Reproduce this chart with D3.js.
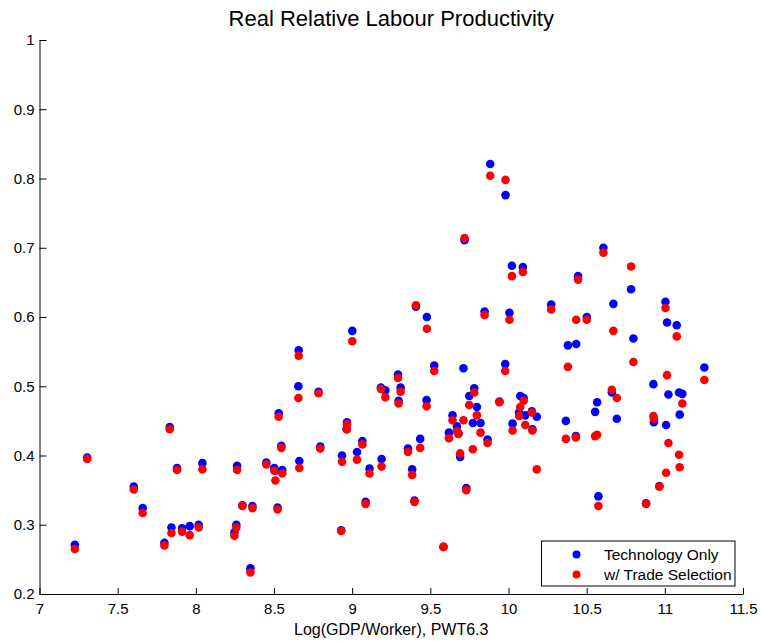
<!DOCTYPE html>
<html>
<head>
<meta charset="utf-8">
<script src="https://cdn.jsdelivr.net/npm/d3@7"></script>
<style>
  html, body { margin: 0; padding: 0; background: #fff; }
  svg { display: block; font-family: "Liberation Sans", Arial, Helvetica, sans-serif; }
</style>
</head>
<body>
<svg id="chart" width="761" height="641"></svg>
<script>
// Log GDP per worker (PWT 6.3), one entry per country
const logGdpPerWorker = [
  7.226, 7.305, 7.603, 7.660, 7.833, 7.880, 7.799, 7.844, 7.912, 7.961,
  8.018, 8.042, 8.264, 8.259, 8.247, 8.298, 8.362, 8.349, 8.451, 8.502,
  8.509, 8.530, 8.547, 8.523, 8.553, 8.658, 8.656, 8.662, 8.785, 8.796,
  9.001, 8.967, 8.965, 8.935, 9.065, 9.031, 9.111, 9.086, 8.930, 9.188,
  9.184, 9.212, 9.293, 9.310, 9.297, 9.357, 9.384, 9.399, 9.435, 9.476,
  9.525, 9.584, 9.730, 9.642, 9.619, 9.670, 9.680, 9.691, 9.781, 9.749,
  9.798, 9.712, 9.772, 9.821, 9.866, 9.942, 9.478, 9.408, 9.847, 10.006,
  9.883, 9.981, 9.719, 10.022, 10.092, 10.445, 10.273, 10.501, 10.433, 10.380,
  9.979, 10.075, 10.068, 10.097, 10.107, 10.149, 10.181, 10.026, 10.153, 10.367,
  10.431, 10.567, 10.554, 10.575, 10.607, 10.784, 10.671, 11.004, 11.014, 11.023,
  11.008, 11.076, 11.112, 11.091, 11.095, 10.799, 11.253, 10.927, 10.930, 10.661,
  10.693, 10.880, 10.965
];

// Real relative labour productivity, technology only
const technologyOnly = [
  0.271, 0.397, 0.355, 0.324, 0.441, 0.382, 0.274, 0.296, 0.295, 0.298,
  0.300, 0.389, 0.385, 0.300, 0.289, 0.328, 0.327, 0.237, 0.390, 0.382,
  0.378, 0.461, 0.414, 0.325, 0.379, 0.552, 0.500, 0.392, 0.492, 0.413,
  0.580, 0.448, 0.438, 0.400, 0.421, 0.405, 0.381, 0.333, 0.292, 0.395,
  0.498, 0.494, 0.517, 0.498, 0.479, 0.410, 0.380, 0.335, 0.424, 0.480,
  0.530, 0.268, 0.353, 0.458, 0.433, 0.442, 0.432, 0.398, 0.497, 0.486,
  0.470, 0.526, 0.447, 0.447, 0.423, 0.478, 0.600, 0.615, 0.608, 0.606,
  0.821, 0.776, 0.711, 0.674, 0.672, 0.659, 0.618, 0.600, 0.561, 0.559,
  0.532, 0.486, 0.462, 0.483, 0.458, 0.464, 0.456, 0.446, 0.438, 0.450,
  0.428, 0.477, 0.463, 0.341, 0.700, 0.640, 0.619, 0.622, 0.592, 0.488,
  0.444, 0.588, 0.489, 0.491, 0.459, 0.569, 0.527, 0.503, 0.448, 0.491,
  0.453, 0.331, 0.356
];

// Real relative labour productivity, with trade selection
const withTradeSelection = [
  0.265, 0.395, 0.351, 0.317, 0.438, 0.379, 0.270, 0.288, 0.290, 0.285,
  0.296, 0.380, 0.379, 0.296, 0.284, 0.327, 0.324, 0.231, 0.387, 0.378,
  0.364, 0.456, 0.411, 0.322, 0.374, 0.544, 0.483, 0.382, 0.490, 0.410,
  0.565, 0.445, 0.438, 0.391, 0.416, 0.394, 0.374, 0.330, 0.291, 0.384,
  0.496, 0.484, 0.512, 0.492, 0.475, 0.405, 0.372, 0.333, 0.411, 0.471,
  0.522, 0.268, 0.350, 0.451, 0.425, 0.435, 0.431, 0.403, 0.491, 0.473,
  0.458, 0.451, 0.409, 0.433, 0.418, 0.477, 0.583, 0.617, 0.603, 0.596,
  0.804, 0.798, 0.714, 0.659, 0.665, 0.654, 0.611, 0.596, 0.596, 0.528,
  0.522, 0.470, 0.457, 0.479, 0.444, 0.462, 0.380, 0.436, 0.436, 0.424,
  0.426, 0.430, 0.428, 0.327, 0.693, 0.673, 0.580, 0.613, 0.516, 0.418,
  0.375, 0.572, 0.475, 0.401, 0.383, 0.535, 0.509, 0.457, 0.453, 0.495,
  0.483, 0.330, 0.355
];

const xTicks = [7, 7.5, 8, 8.5, 9, 9.5, 10, 10.5, 11, 11.5];
const xTickLabels = ["7", "7.5", "8", "8.5", "9", "9.5", "10", "10.5", "11", "11.5"];
const yTicks = [0.2, 0.3, 0.4, 0.5, 0.6, 0.7, 0.8, 0.9, 1];
const yTickLabels = ["0.2", "0.3", "0.4", "0.5", "0.6", "0.7", "0.8", "0.9", "1"];

const seriesNames = ["Technology Only", "w/ Trade Selection"];
const seriesColors = ["#0000ff", "#ff0000"];

const svg = d3.select("#chart");

const x = d3.scaleLinear().domain([7, 11.5]).range([39.5, 743]);
const y = d3.scaleLinear().domain([0.2, 1]).range([594, 40]);

// Title
svg.append("text")
  .attr("x", (x.range()[0] + x.range()[1]) / 2)
  .attr("y", 26)
  .attr("text-anchor", "middle")
  .attr("font-size", 22)
  .attr("fill", "#000")
  .text("Real Relative Labour Productivity");

// Axes: MATLAB style, ticks pointing inward, no box
const xAxis = d3.axisBottom(x)
  .tickValues(xTicks)
  .tickFormat((d, i) => xTickLabels[i])
  .tickSizeInner(-6)
  .tickSizeOuter(0)
  .tickPadding(9);

const yAxis = d3.axisLeft(y)
  .tickValues(yTicks)
  .tickFormat((d, i) => yTickLabels[i])
  .tickSizeInner(-7)
  .tickSizeOuter(0)
  .tickPadding(5);

const gx = svg.append("g")
  .attr("transform", `translate(0,${y.range()[0]})`)
  .call(xAxis);
const gy = svg.append("g")
  .attr("transform", `translate(${x.range()[0]},0)`)
  .call(yAxis);

[gx, gy].forEach(g => {
  g.selectAll("path.domain").attr("stroke", "#000").attr("stroke-width", 1);
  g.selectAll(".tick line").attr("stroke", "#000").attr("stroke-width", 1);
  g.selectAll(".tick text")
    .attr("fill", "#000")
    .attr("font-size", 15)
    .attr("font-family", "Liberation Sans, Arial, Helvetica, sans-serif");
});

// X axis label
svg.append("text")
  .attr("x", (x.range()[0] + x.range()[1]) / 2)
  .attr("y", 635)
  .attr("text-anchor", "middle")
  .attr("font-size", 16)
  .attr("fill", "#000")
  .text("Log(GDP/Worker), PWT6.3");

// Scatter points: technology only first, trade selection drawn on top
const r = 4.3;
const plot = svg.append("g");

plot.append("g").selectAll("circle")
  .data(logGdpPerWorker.map((v, i) => [v, technologyOnly[i]]))
  .join("circle")
  .attr("cx", d => x(d[0]))
  .attr("cy", d => y(d[1]))
  .attr("r", r)
  .attr("fill", seriesColors[0]);

plot.append("g").selectAll("circle")
  .data(logGdpPerWorker.map((v, i) => [v, withTradeSelection[i]]))
  .join("circle")
  .attr("cx", d => x(d[0]))
  .attr("cy", d => y(d[1]))
  .attr("r", r)
  .attr("fill", seriesColors[1]);

// Legend
const legend = svg.append("g").attr("transform", "translate(541.5,541)");
legend.append("rect")
  .attr("width", 193.5)
  .attr("height", 45)
  .attr("fill", "#fff")
  .attr("stroke", "#000")
  .attr("stroke-width", 1);

seriesNames.forEach((name, i) => {
  const row = legend.append("g").attr("transform", `translate(0,${13.5 + i * 20})`);
  row.append("circle")
    .attr("cx", 35)
    .attr("cy", 0)
    .attr("r", 4)
    .attr("fill", seriesColors[i]);
  row.append("text")
    .attr("x", 62.5)
    .attr("y", 0)
    .attr("dy", "0.35em")
    .attr("font-size", 15.5)
    .attr("fill", "#000")
    .text(name);
});
</script>
</body>
</html>
